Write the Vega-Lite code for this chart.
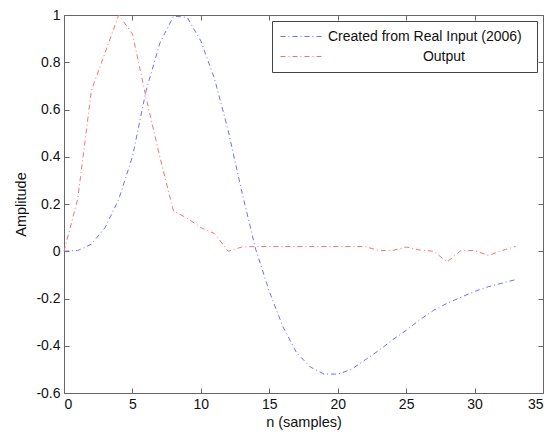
{
  "$schema": "https://vega.github.io/schema/vega-lite/v6.json",
  "width": 479,
  "height": 378,
  "autosize": {"type": "none"},
  "padding": {"left": 64, "top": 15, "right": 10, "bottom": 39},
  "background": "white",
  "config": {
    "view": {"stroke": "#666666", "strokeWidth": 1},
    "font": "Liberation Sans",
    "axis": {
      "domain": false,
      "grid": false,
      "tickColor": "#666666",
      "tickSize": -5,
      "labelFont": "Liberation Sans",
      "labelFontSize": 14,
      "labelColor": "#111111",
      "titleFont": "Liberation Sans",
      "titleFontSize": 14.5,
      "titleFontWeight": "normal",
      "titleColor": "#111111"
    }
  },
  "data": {
    "values": [
      {"n": 0, "series": "Created from Real Input (2006)", "value": 0.0},
      {"n": 1, "series": "Created from Real Input (2006)", "value": 0.003},
      {"n": 2, "series": "Created from Real Input (2006)", "value": 0.03},
      {"n": 3, "series": "Created from Real Input (2006)", "value": 0.10},
      {"n": 4, "series": "Created from Real Input (2006)", "value": 0.22},
      {"n": 5, "series": "Created from Real Input (2006)", "value": 0.40},
      {"n": 6, "series": "Created from Real Input (2006)", "value": 0.68},
      {"n": 7, "series": "Created from Real Input (2006)", "value": 0.88},
      {"n": 8, "series": "Created from Real Input (2006)", "value": 0.995},
      {"n": 9, "series": "Created from Real Input (2006)", "value": 0.99},
      {"n": 10, "series": "Created from Real Input (2006)", "value": 0.89},
      {"n": 11, "series": "Created from Real Input (2006)", "value": 0.73},
      {"n": 12, "series": "Created from Real Input (2006)", "value": 0.51},
      {"n": 13, "series": "Created from Real Input (2006)", "value": 0.25},
      {"n": 14, "series": "Created from Real Input (2006)", "value": 0.01},
      {"n": 15, "series": "Created from Real Input (2006)", "value": -0.17},
      {"n": 16, "series": "Created from Real Input (2006)", "value": -0.32},
      {"n": 17, "series": "Created from Real Input (2006)", "value": -0.43},
      {"n": 18, "series": "Created from Real Input (2006)", "value": -0.49},
      {"n": 19, "series": "Created from Real Input (2006)", "value": -0.52},
      {"n": 20, "series": "Created from Real Input (2006)", "value": -0.52},
      {"n": 21, "series": "Created from Real Input (2006)", "value": -0.50},
      {"n": 22, "series": "Created from Real Input (2006)", "value": -0.46},
      {"n": 23, "series": "Created from Real Input (2006)", "value": -0.42},
      {"n": 24, "series": "Created from Real Input (2006)", "value": -0.375},
      {"n": 25, "series": "Created from Real Input (2006)", "value": -0.335},
      {"n": 26, "series": "Created from Real Input (2006)", "value": -0.29},
      {"n": 27, "series": "Created from Real Input (2006)", "value": -0.25},
      {"n": 28, "series": "Created from Real Input (2006)", "value": -0.22},
      {"n": 29, "series": "Created from Real Input (2006)", "value": -0.195},
      {"n": 30, "series": "Created from Real Input (2006)", "value": -0.17},
      {"n": 31, "series": "Created from Real Input (2006)", "value": -0.15},
      {"n": 32, "series": "Created from Real Input (2006)", "value": -0.135},
      {"n": 33, "series": "Created from Real Input (2006)", "value": -0.12},
      {"n": 0, "series": "Output", "value": 0.0},
      {"n": 1, "series": "Output", "value": 0.22},
      {"n": 2, "series": "Output", "value": 0.68},
      {"n": 3, "series": "Output", "value": 0.84},
      {"n": 4, "series": "Output", "value": 1.0},
      {"n": 5, "series": "Output", "value": 0.92},
      {"n": 6, "series": "Output", "value": 0.65},
      {"n": 7, "series": "Output", "value": 0.40},
      {"n": 8, "series": "Output", "value": 0.17},
      {"n": 9, "series": "Output", "value": 0.14},
      {"n": 10, "series": "Output", "value": 0.10},
      {"n": 11, "series": "Output", "value": 0.075},
      {"n": 12, "series": "Output", "value": 0.0},
      {"n": 13, "series": "Output", "value": 0.018},
      {"n": 14, "series": "Output", "value": 0.02},
      {"n": 15, "series": "Output", "value": 0.02},
      {"n": 16, "series": "Output", "value": 0.02},
      {"n": 17, "series": "Output", "value": 0.02},
      {"n": 18, "series": "Output", "value": 0.02},
      {"n": 19, "series": "Output", "value": 0.02},
      {"n": 20, "series": "Output", "value": 0.02},
      {"n": 21, "series": "Output", "value": 0.02},
      {"n": 22, "series": "Output", "value": 0.02},
      {"n": 23, "series": "Output", "value": 0.003},
      {"n": 24, "series": "Output", "value": 0.003},
      {"n": 25, "series": "Output", "value": 0.018},
      {"n": 26, "series": "Output", "value": 0.005},
      {"n": 27, "series": "Output", "value": 0.0},
      {"n": 28, "series": "Output", "value": -0.045},
      {"n": 29, "series": "Output", "value": 0.003},
      {"n": 30, "series": "Output", "value": 0.003},
      {"n": 31, "series": "Output", "value": -0.018},
      {"n": 32, "series": "Output", "value": 0.003},
      {"n": 33, "series": "Output", "value": 0.02}
    ]
  },
  "layer": [
    {
      "mark": {"type": "line", "strokeWidth": 1, "strokeDash": [5, 3, 1, 3]},
      "encoding": {
        "x": {
          "field": "n", "type": "quantitative",
          "scale": {"domain": [0, 35], "nice": false, "zero": false},
          "axis": {"orient": "bottom", "values": [0, 5, 10, 15, 20, 25, 30, 35], "title": "n (samples)", "labelPadding": 9, "titlePadding": 4}
        },
        "y": {
          "field": "value", "type": "quantitative",
          "scale": {"domain": [-0.6, 1], "nice": false, "zero": false},
          "axis": {"orient": "left", "values": [-0.6, -0.4, -0.2, 0, 0.2, 0.4, 0.6, 0.8, 1], "title": "Amplitude", "labelPadding": 9, "titlePadding": 7,
            "labelExpr": "datum.value < 0 ? '-' + format(-datum.value, '.1~f') : format(datum.value, '.1~f')"}
        },
        "color": {
          "field": "series", "type": "nominal",
          "scale": {"domain": ["Created from Real Input (2006)", "Output"], "range": ["#6f6fff", "#ff6f6f"]},
          "legend": {
            "title": null,
            "orient": "top-right",
            "offset": 6,
            "symbolType": "M-1,0H5",
            "symbolSize": 196,
            "symbolStrokeWidth": 1,
            "symbolDash": [5, 3, 1, 3],
            "symbolFillColor": "transparent",
            "labelFont": "Liberation Sans",
            "labelFontSize": 14,
            "labelColor": "#111111",
            "labelOffset": 33,
            "labelLimit": 400,
            "strokeColor": "#444444",
            "fillColor": "white",
            "padding": 8,
            "rowPadding": 5,
            "labelExpr": "datum.label == 'Output' ? '\u200b\u2002\u2002\u2002\u2002\u2002\u2002\u2002\u2002\u2002\u2002\u2002\u2002\u2002\u00a0Output' : datum.label + '\u2002\u200b'"
          }
        }
      }
    },
    {
      "mark": {"type": "line", "opacity": 0},
      "encoding": {
        "x": {
          "field": "n", "type": "quantitative",
          "scale": {"domain": [0, 35], "nice": false, "zero": false},
          "axis": {"orient": "top", "values": [0, 5, 10, 15, 20, 25, 30, 35], "labels": false, "title": null}
        },
        "y": {
          "field": "value", "type": "quantitative",
          "scale": {"domain": [-0.6, 1], "nice": false, "zero": false},
          "axis": {"orient": "right", "values": [-0.6, -0.4, -0.2, 0, 0.2, 0.4, 0.6, 0.8, 1], "labels": false, "title": null}
        },
        "detail": {"field": "series", "type": "nominal"}
      }
    }
  ],
  "resolve": {"axis": {"x": "independent", "y": "independent"}}
}
